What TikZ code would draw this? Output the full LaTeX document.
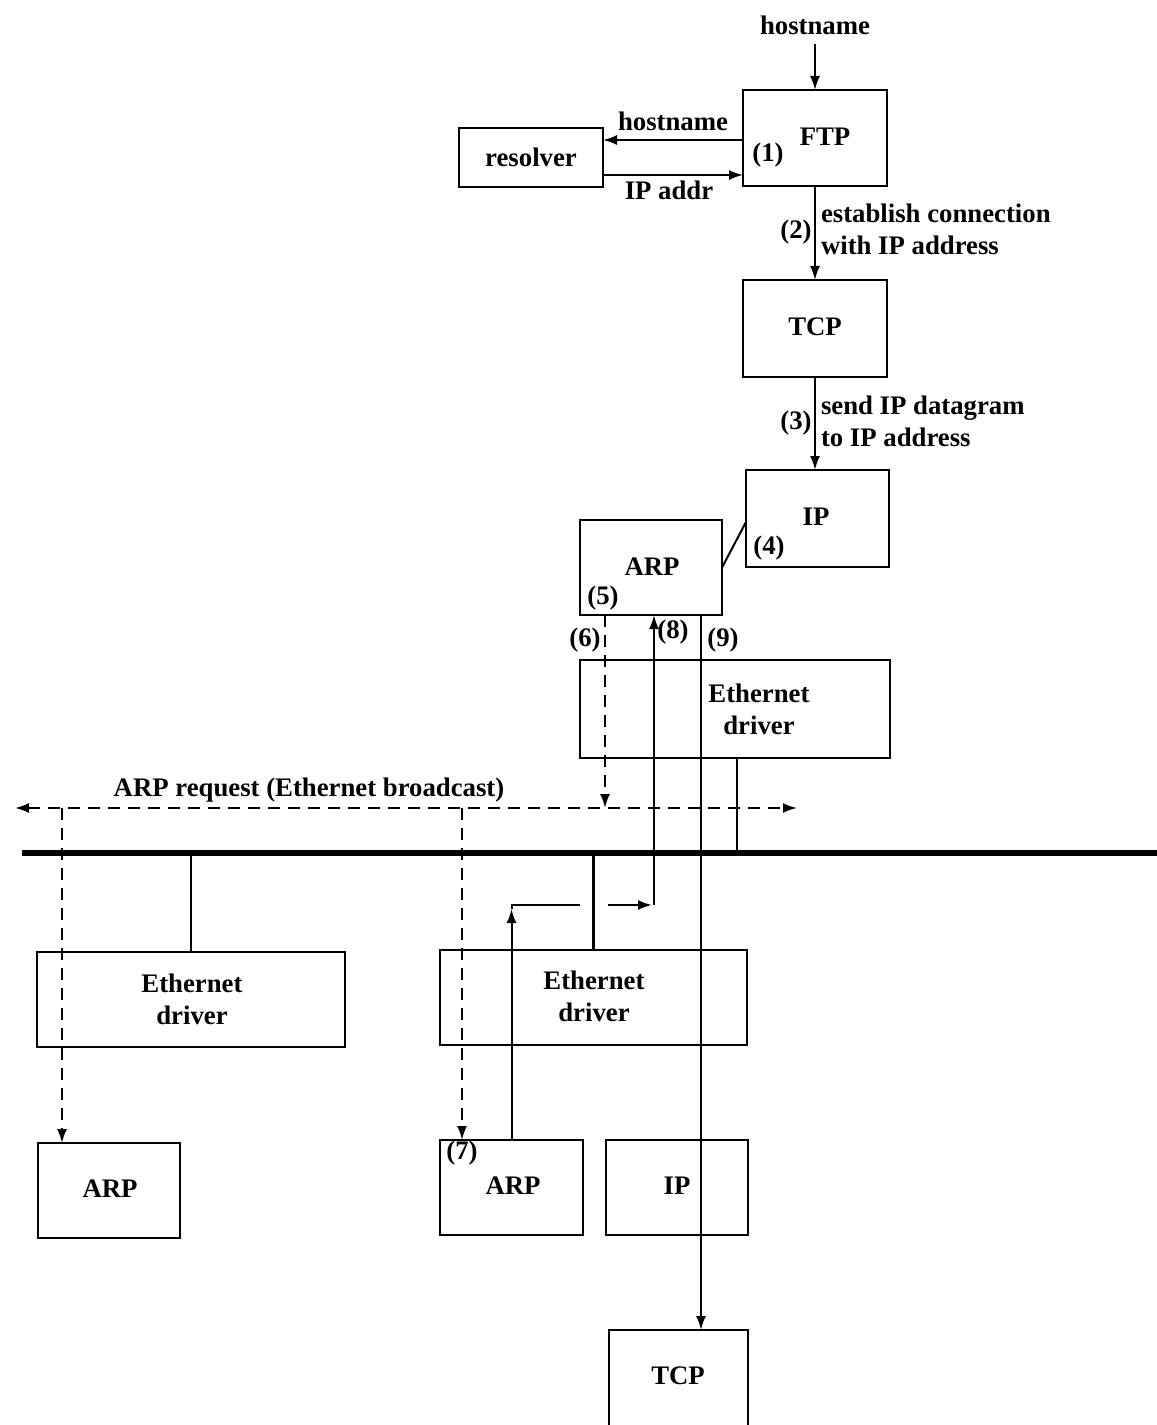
\documentclass[tikz,border=0pt]{standalone}
\usepackage{fontspec}
\setmainfont{Liberation Serif}
\usetikzlibrary{arrows.meta}
\newcommand{\dgfont}{\fontsize{10.7pt}{12.8pt}\selectfont\bfseries}
\begin{document}
\begin{tikzpicture}[x=0.4pt, y=-0.4pt,
  box/.style={draw, line width=1pt, inner sep=0pt, outer sep=0pt},
  txt/.style={inner sep=0pt, outer sep=0pt, font=\dgfont, align=center},
  conn/.style={line width=0.8pt},
  tip/.style={-{Latex[length=5.6pt,width=4pt]}},
  arr/.style={conn, tip},
  darr/.style={arr, dash pattern=on 4.8pt off 3.2pt},
  bus/.style={line width=2.4pt},
]
\useasboundingbox (0,0) rectangle (1157,1425);

% boxes
\node[box, minimum width=57.6pt, minimum height=38.4pt] (ftp) at (815,138) {};
\node[box, minimum width=57.6pt, minimum height=23.6pt] (resolver) at (531,157.5) {};
\node[box, minimum width=57.6pt, minimum height=38.8pt] (tcp) at (815,328.5) {};
\node[box, minimum width=57.2pt, minimum height=38.8pt] (ip) at (817.5,518.5) {};
\node[box, minimum width=56.8pt, minimum height=38pt] (arp) at (651,567.5) {};
\node[box, minimum width=124pt, minimum height=39.2pt] (eth) at (735,709) {};
\node[box, minimum width=123.2pt, minimum height=38pt] (ethL) at (191,999.5) {};
\node[box, minimum width=122.8pt, minimum height=38pt] (ethM) at (593.5,997.5) {};
\node[box, minimum width=56.8pt, minimum height=38pt] (arpL) at (109,1190.5) {};
\node[box, minimum width=57.2pt, minimum height=38pt] (arpM) at (511.5,1187.5) {};
\node[box, minimum width=56.8pt, minimum height=38pt] (ipM) at (677,1187.5) {};
\node[minimum width=55.6pt, minimum height=38pt, inner sep=0pt, outer sep=0pt] (tcpB) at (678.5,1377.5) {};
\draw[line width=1pt] (tcpB.south west) -- (tcpB.north west) -- (tcpB.north east) -- (tcpB.south east);

% texts
\node[txt] (hnTop) at (815,25) {hostname};
\node[txt] (hnMid) at (673,121) {hostname};
\node[txt] (ipaddr) at (669,190) {IP addr};
\node[txt] (l1) at (768,155) {(1)};
\node[txt] (tFTP) at (825,137) {FTP};
\node[txt] (tres) at (531,157) {resolver};
\node[txt] (l2) at (796,232) {(2)};
\node[txt, anchor=west, align=left] (lab2) at (821,229) {establish connection\\with IP address};
\node[txt] (tTCP) at (815,327) {TCP};
\node[txt] (l3) at (796,423) {(3)};
\node[txt, anchor=west, align=left] (lab3) at (821,421) {send IP datagram\\to IP address};
\node[txt] (tIP) at (816,517) {IP};
\node[txt] (l4) at (769,548) {(4)};
\node[txt] (tARP) at (652,567) {ARP};
\node[txt] (l5) at (603,598) {(5)};
\node[txt] (l6) at (585,640) {(6)};
\node[txt] (l8) at (673,632) {(8)};
\node[txt] (l9) at (723,640) {(9)};
\node[txt] (teth) at (759,709) {Ethernet\\driver};
\node[txt] (tbc) at (309,790) {ARP request (Ethernet broadcast)};
\node[txt] (tethL) at (192,999) {Ethernet\\driver};
\node[txt] (tethM) at (594,996) {Ethernet\\driver};
\node[txt] (tarpL) at (110,1189) {ARP};
\node[txt] (l7) at (462,1153) {(7)};
\node[txt] (tarpM) at (513,1186) {ARP};
\node[txt] (tipM) at (677,1186) {IP};
\node[txt] (ttcpB) at (678,1376) {TCP};

% coordinates
\coordinate (bcL) at (15,808);
\coordinate (bcR) at (797,808);
\coordinate (busL) at (22,853);
\coordinate (busR) at (1157,853);
\coordinate (d1) at (62,808);
\coordinate (d2) at (462,808);
\coordinate (k1) at (511.5,909);
\coordinate (k2) at (511.5,905);
\coordinate (k3) at (580,905);
\coordinate (k4) at (608,905);
\coordinate (k5) at (652,905);
\coordinate (k6) at (654,905);
\coordinate (x9) at (701,0);
\coordinate (x1) at (737,0);

% upper stack
\draw[arr, shorten <=4pt] (hnTop.south) -- (ftp.north);
\draw[arr] ([yshift=7pt]resolver.east -| ftp.west) -- ([yshift=7pt]resolver.east);
\draw[arr] ([yshift=-7pt]resolver.east) -- ([yshift=-7pt]resolver.east -| ftp.west);
\draw[arr] (ftp.south) -- (tcp.north);
\draw[arr] (tcp.south) -- (tcp.south |- ip.north);
\draw[conn] (arp.east) -- ([yshift=-1.4pt]ip.west);

% bus and attachments
\draw[bus] (busL) -- (busR);
\draw[conn] (x1 |- eth.south) -- (x1 |- busL);
\draw[conn] (ethL.north) -- (ethL.north |- busL);
\draw[line width=1.2pt] (ethM.north) -- (ethM.north |- busL);

% broadcast
\draw[conn, dash pattern=on 4.8pt off 3.2pt, {Latex[length=5.6pt,width=4pt]}-{Latex[length=5.6pt,width=4pt]}] (bcL) -- (bcR);
\draw[darr] ([xshift=-18.4pt]arp.south) -- ([xshift=-18.4pt]arp.south |- bcL);
\draw[darr] (d1) -- (d1 |- arpL.north);
\draw[darr] (d2) -- (d2 |- arpM.north);

% reply (8)
\draw[arr] (arpM.north) -- (k1);
\draw[conn] (k1) -- (k2) -- (k3);
\draw[arr] (k4) -- (k5);
\draw[arr] (k6) -- (k6 |- arp.south);

% datagram (9)
\draw[arr] (x9 |- arp.south) -- (x9 |- tcpB.north);
\end{tikzpicture}
\end{document}
